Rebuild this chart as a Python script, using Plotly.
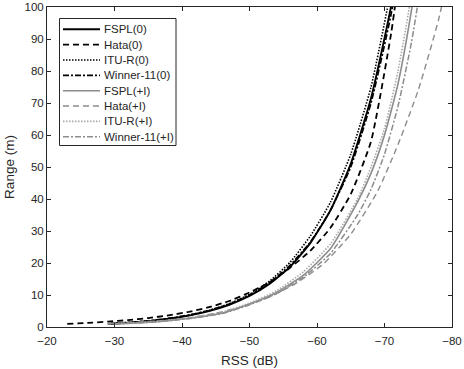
import plotly.graph_objects as go

# RSS (dB) / Range (m) pairs
fspl0_rss = [-29.5, -32, -35, -38, -41, -44, -47, -50, -53, -56, -59, -62, -65, -68, -71, -74]
fspl0_rng = [1.0, 1.32, 1.84, 2.56, 3.57, 4.98, 6.94, 9.68, 13.5, 18.8, 26.2, 36.5, 51.0, 71.5, 100.5, 141.0]

hata0_rss = [-23, -26, -29, -32, -35, -38, -41, -44, -47, -50, -53, -56, -59, -62, -65, -68, -71, -74]
hata0_rng = [1.0, 1.29, 1.67, 2.16, 2.8, 3.64, 4.74, 6.19, 8.13, 10.8, 14.0, 18.5, 23.8, 31.0, 41.5, 58.0, 92.0, 140.0]

itur0_rss = [-29.5, -32, -35, -38, -41, -44, -47, -50, -53, -56, -59, -62, -65, -68, -71, -74]
itur0_rng = [1.0, 1.33, 1.87, 2.62, 3.69, 5.18, 7.28, 10.2, 14.4, 20.2, 28.4, 39.0, 54.0, 75.0, 106.0, 148.0]

winner0_rss = [-29, -32, -35, -38, -41, -44, -47, -50, -53, -56, -59, -62, -65, -68, -71, -74]
winner0_rng = [1.0, 1.39, 1.93, 2.68, 3.73, 5.18, 7.2, 10.0, 13.9, 19.3, 26.5, 36.5, 50.0, 70.0, 98.0, 137.0]

fsplI_rss = [-30, -34, -38, -42, -46, -50, -54, -58, -62, -66, -68, -70, -72, -74, -76]
fsplI_rng = [0.95, 1.38, 2.0, 2.95, 4.4, 7.2, 10.8, 16.2, 24.5, 39.0, 48.0, 60.0, 76.0, 99.0, 128.0]

hataI_rss = [-29, -33, -37, -41, -45, -49, -53, -57, -61, -65, -69, -72, -75, -78, -81]
hataI_rng = [1.0, 1.45, 2.0, 2.85, 4.3, 6.4, 9.4, 13.8, 19.8, 29.0, 42.5, 57.0, 74.0, 96.0, 125.0]

ituRI_rss = [-30, -34, -38, -42, -46, -50, -54, -58, -62, -66, -68, -70, -72, -74, -76]
ituRI_rng = [1.0, 1.45, 2.1, 3.1, 4.7, 7.5, 11.3, 17.3, 26.0, 40.0, 50.0, 62.0, 80.0, 104.0, 134.0]

winnerI_rss = [-30, -34, -38, -42, -46, -50, -54, -58, -62, -66, -68, -70, -72, -74, -76]
winnerI_rng = [0.9, 1.33, 1.95, 2.85, 4.25, 6.9, 10.4, 15.6, 23.0, 35.0, 43.0, 54.0, 69.0, 89.0, 115.0]

x_ticks = [-20, -30, -40, -50, -60, -70, -80]
y_ticks = [0, 10, 20, 30, 40, 50, 60, 70, 80, 90, 100]

BLACK = "#000000"
GRAY = "#8c8c8c"
LGRAY = "#a8a8a8"
AXC = "#262626"
FONT = "Liberation Sans, Arial, sans-serif"

series = [
    ("FSPL(0)", fspl0_rss, fspl0_rng, BLACK, "solid", 1.9),
    ("Hata(0)", hata0_rss, hata0_rng, BLACK, "6px,4px", 1.8),
    ("ITU-R(0)", itur0_rss, itur0_rng, BLACK, "1.5px,1.5px", 1.6),
    ("Winner-11(0)", winner0_rss, winner0_rng, BLACK, "6px,2px,2px,2px", 1.7),
    ("FSPL(+I)", fsplI_rss, fsplI_rng, GRAY, "solid", 1.6),
    ("Hata(+I)", hataI_rss, hataI_rng, GRAY, "6px,4px", 1.4),
    ("ITU-R(+I)", ituRI_rss, ituRI_rng, LGRAY, "1.5px,1.5px", 1.6),
    ("Winner-11(+I)", winnerI_rss, winnerI_rng, GRAY, "6px,2px,2px,2px", 1.5),
]

W, H = 464, 369
ML, MR, MT, MB = 47, 12, 7, 42
PW, PH = W - ML - MR, H - MT - MB

def px2x(px):
    return (px - ML) / PW

def px2y(py):
    return (H - MB - py) / PH

fig = go.Figure()
for name, xs, ys, col, dash, w in series:
    fig.add_trace(go.Scatter(
        x=xs, y=ys, mode="lines", name=name, showlegend=False,
        line=dict(color=col, dash=dash, width=w, shape="spline", smoothing=0.5),
    ))

# Legend box drawn in the MATLAB style (compact rows)
shapes = [dict(type="rect", xref="paper", yref="paper",
               x0=px2x(59.5), x1=px2x(176), y0=px2y(145.5), y1=px2y(18.5),
               line=dict(color=AXC, width=1), fillcolor="white", layer="above")]
annotations = []
row0, row_step = 29.3, 15.35
for i, (name, xs, ys, col, dash, w) in enumerate(series):
    py = row0 + i * row_step
    shapes.append(dict(type="line", xref="paper", yref="paper",
                       x0=px2x(63), x1=px2x(100), y0=px2y(py), y1=px2y(py),
                       line=dict(color=col, dash=dash, width=w), layer="above"))
    annotations.append(dict(xref="paper", yref="paper", x=px2x(102), y=px2y(py),
                            text=name, showarrow=False, xanchor="left", yanchor="middle",
                            font=dict(family=FONT, size=11.5, color=AXC)))

axis_common = dict(
    showgrid=False, zeroline=False, showline=True, linecolor=AXC, linewidth=1,
    mirror="ticks", ticks="inside", ticklen=4, tickcolor=AXC, automargin=False,
    tickfont=dict(family=FONT, size=11.5, color=AXC),
)

fig.update_layout(
    width=W, height=H,
    margin=dict(l=ML, r=MR, t=MT, b=MB),
    paper_bgcolor="white", plot_bgcolor="white",
    font=dict(family=FONT, color=AXC),
    xaxis=dict(range=[-20, -80], tickvals=x_ticks, ticklabelstandoff=3,
               title=dict(text="RSS (dB)", font=dict(size=13.5), standoff=9), **axis_common),
    yaxis=dict(range=[0, 100], tickvals=y_ticks,
               title=dict(text="Range (m)", font=dict(size=13.5), standoff=6), **axis_common),
    shapes=shapes,
    annotations=annotations,
    showlegend=False,
)

fig.write_html("out.html")
